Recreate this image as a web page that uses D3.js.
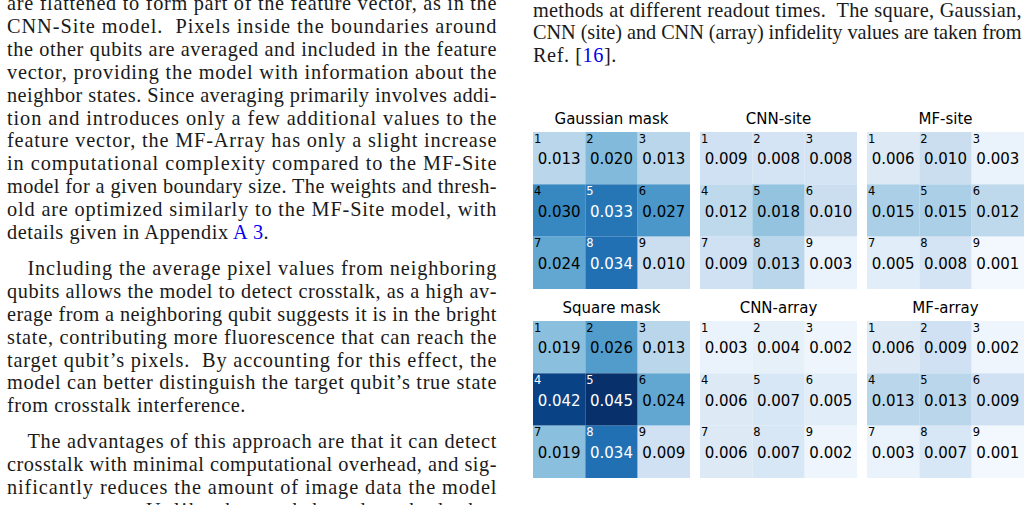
<!DOCTYPE html>
<html>
<head>
<meta charset="utf-8">
<script src="https://cdn.jsdelivr.net/npm/d3@7"></script>
<style>
  html, body { margin: 0; padding: 0; background: #fff; }
  svg { display: block; }
</style>
</head>
<body>
<div id="page"></div>
<script>
// infidelity per site (1..9) for each readout method
const methods = ["Gaussian mask", "CNN-site", "MF-site", "Square mask", "CNN-array", "MF-array"];
const gaussianMask = [0.013, 0.020, 0.013, 0.030, 0.033, 0.027, 0.024, 0.034, 0.010];
const cnnSite     = [0.009, 0.008, 0.008, 0.012, 0.018, 0.010, 0.009, 0.013, 0.003];
const mfSite      = [0.006, 0.010, 0.003, 0.015, 0.015, 0.012, 0.005, 0.008, 0.001];
const squareMask  = [0.019, 0.026, 0.013, 0.042, 0.045, 0.024, 0.019, 0.034, 0.009];
const cnnArray    = [0.003, 0.004, 0.002, 0.006, 0.007, 0.005, 0.006, 0.007, 0.002];
const mfArray     = [0.006, 0.009, 0.002, 0.013, 0.013, 0.009, 0.003, 0.007, 0.001];
const gridCols = ["0", "1", "2"];
const gridRows = ["0", "1", "2"];

const leftLines = [
  ["are flattened to form part of the feature vector, as in the", true],
  ["CNN-Site model.  Pixels inside the boundaries around", true],
  ["the other qubits are averaged and included in the feature", true],
  ["vector, providing the model with information about the", true],
  ["neighbor states. Since averaging primarily involves addi-", true],
  ["tion and introduces only a few additional values to the", true],
  ["feature vector, the MF-Array has only a slight increase", true],
  ["in computational complexity compared to the MF-Site", true],
  ["model for a given boundary size. The weights and thresh-", true],
  ["old are optimized similarly to the MF-Site model, with", true],
  ["details given in Appendix |A\u20093|.", false],
  null,
  ["Including the average pixel values from neighboring", true, true],
  ["qubits allows the model to detect crosstalk, as a high av-", true],
  ["erage from a neighboring qubit suggests it is in the bright", true],
  ["state, contributing more fluorescence that can reach the", true],
  ["target qubit\u2019s pixels.  By accounting for this effect, the", true],
  ["model can better distinguish the target qubit\u2019s true state", true],
  ["from crosstalk interference.", false],
  null,
  ["The advantages of this approach are that it can detect", true, true],
  ["crosstalk with minimal computational overhead, and sig-", true],
  ["nificantly reduces the amount of image data the model", true],
  ["must process. Unlike the mask-based methods that", true]
];
const rightLines = [
  ["methods at different readout times.  The square, Gaussian,", true],
  ["CNN (site) and CNN (array) infidelity values are taken from", true],
  ["Ref. [|16|].", false]
];

const width = 1030, height = 505;
const svg = d3.select("#page").append("svg")
  .attr("width", width)
  .attr("height", height);

// ---- body text ----
function writeLines(lines, x0, x1, y0, lh, indent) {
  let y = y0;
  const g = svg.append("g")
    .attr("font-family", "'Liberation Serif', 'Times New Roman', serif")
    .attr("font-size", 20.3)
    .attr("letter-spacing", 0.55)
    .attr("fill", "#1a1a1a");
  lines.forEach(l => {
    if (l === null) { y += 13; return; }
    const [str, justify, ind] = l;
    const x = ind ? x0 + indent : x0;
    const t = g.append("text")
      .attr("x", x)
      .attr("y", y)
      .attr("xml:space", "preserve");
    str.split("|").forEach((part, i) => {
      t.append("tspan").attr("fill", i % 2 ? "#0000ee" : null).text(part);
    });
    if (justify) t.attr("textLength", x1 - x).attr("lengthAdjust", "spacing");
    y += lh;
  });
}
writeLines(leftLines, 7, 497, 10, 22.9, 20.5);
writeLines(rightLines, 533, 1022, 16.5, 22.9, 0);

// ---- heatmaps ----
const allVals = [gaussianMask, cnnSite, mfSite, squareMask, cnnArray, mfArray];
const vmax = d3.max(allVals.flat());
const color = d3.scaleSequential(d3.interpolateBlues).domain([0, vmax]);

const panelX = d3.scalePoint().domain([0, 1, 2]).range([533, 867]);
const panelY = d3.scalePoint().domain([0, 1]).range([132, 321]);
const size = 157;

const x = d3.scaleBand().domain(gridCols).range([0, size]);
const y = d3.scaleBand().domain(gridRows).range([0, size]);

methods.forEach((name, m) => {
  const vals = allVals[m];
  const g = svg.append("g")
    .attr("transform", `translate(${panelX(m % 3)},${panelY(Math.floor(m / 3))})`)
    .attr("font-family", "'DejaVu Sans', sans-serif");

  g.append("text")
    .attr("x", size / 2)
    .attr("y", -8)
    .attr("text-anchor", "middle")
    .attr("font-size", 15)
    .attr("fill", "#000")
    .text(name);

  const cells = vals.map((v, i) => ({ v, i, c: String(i % 3), r: String(Math.floor(i / 3)) }));
  const cell = g.selectAll("g.cell").data(cells).enter().append("g").attr("class", "cell");

  cell.append("rect")
    .attr("x", d => x(d.c))
    .attr("y", d => y(d.r))
    .attr("width", x.bandwidth())
    .attr("height", y.bandwidth())
    .attr("fill", d => color(d.v));

  const txtColor = d => d.v > 0.7 * vmax ? "#fff" : "#000";

  cell.append("text")
    .attr("x", d => x(d.c) + 1)
    .attr("y", d => y(d.r) + 10.8)
    .attr("font-size", 11.5)
    .attr("fill", txtColor)
    .text(d => d.i + 1);

  cell.append("text")
    .attr("x", d => x(d.c) + x.bandwidth() / 2)
    .attr("y", d => y(d.r) + y.bandwidth() / 2)
    .attr("dy", "0.4em")
    .attr("text-anchor", "middle")
    .attr("font-size", 15)
    .attr("fill", txtColor)
    .text(d => d3.format(".3f")(d.v));
});
</script>
</body>
</html>
